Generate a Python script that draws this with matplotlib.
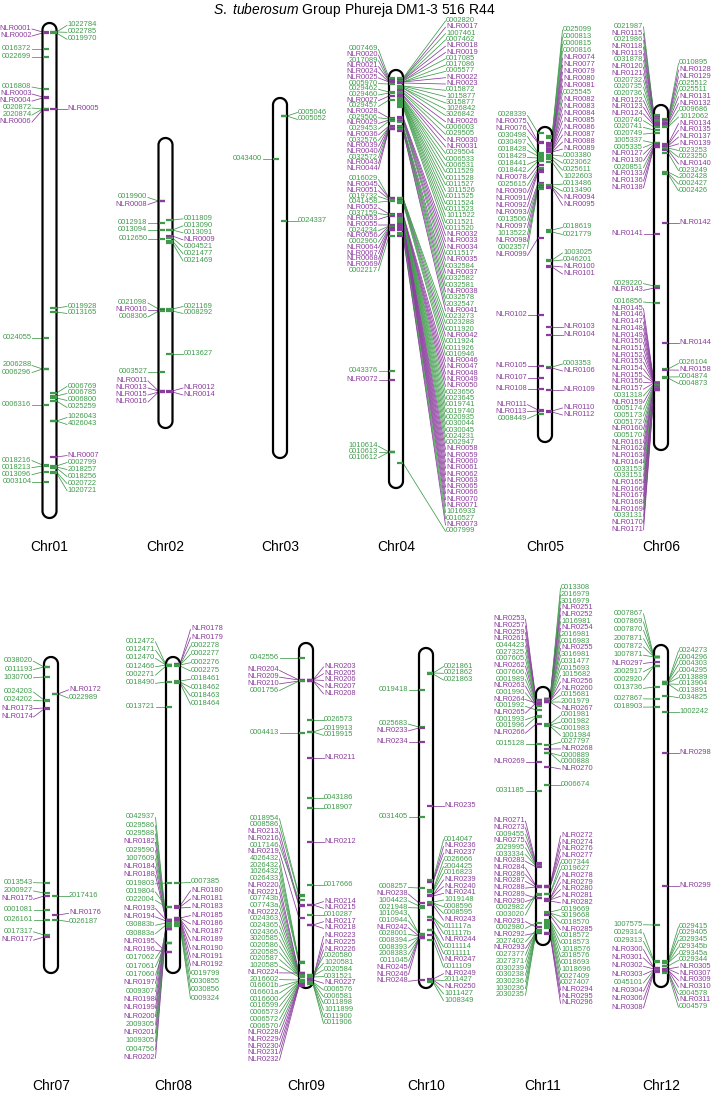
import numpy as np
import matplotlib
matplotlib.use("Agg")
import matplotlib.pyplot as plt

plt.rcParams['font.family'] = ['Liberation Sans', 'DejaVu Sans']
plt.rcParams['mathtext.fontset'] = 'custom'
plt.rcParams['mathtext.it'] = 'Liberation Sans:italic'
plt.rcParams['mathtext.rm'] = 'Liberation Sans'

TITLE = r"$\mathit{S.\ tuberosum}$ Group Phureja DM1-3 516 R44"
CHROMOSOMES = ["Chr01", "Chr02", "Chr03", "Chr04", "Chr05", "Chr06",
               "Chr07", "Chr08", "Chr09", "Chr10", "Chr11", "Chr12"]
CHR_LENGTH_CM = [99.0, 58.0, 72.0, 83.6, 63.0, 69.0, 63.2, 63.2, 69.0, 68.0, 51.6, 68.4]

# (gene id, position in cM from the top of the chromosome), left / right side
CHR01_L = [("NLR0001", 1.8), ("NLR0002", 2.0), ("0016372", 5.2), ("0022699", 6.8), ("0016808", 13.2),
           ("NLR0003", 14.8), ("NLR0004", 15.0), ("0020872", 17.2), ("2020874", 17.2), ("NLR0006", 17.4),
           ("0024055", 63.0), ("2006288", 69.2), ("0006296", 69.2), ("0006316", 76.4), ("0018216", 88.4),
           ("0018213", 88.6), ("0013096", 89.8), ("0003104", 91.8)]
CHR01_R = [("1022784", 1.8), ("0022785", 1.8), ("0019970", 2.0), ("NLR0005", 17.2), ("0019928", 57.0),
           ("0013165", 57.8), ("0006769", 74.0), ("0006785", 74.6), ("0006800", 75.0), ("0025259", 75.6),
           ("1026043", 79.6), ("4026043", 79.6), ("NLR0007", 86.8), ("0002799", 88.6), ("2018257", 88.8),
           ("0018256", 89.0), ("0020722", 89.8), ("1020721", 90.0)]

CHR02_L = [("0019900", 12.6), ("NLR0008", 12.6), ("0012918", 17.0), ("0013094", 18.4), ("0012650", 20.2),
           ("0021098", 34.2), ("NLR0010", 34.4), ("0008306", 34.6), ("0003527", 46.8), ("NLR0011", 50.6),
           ("NLR0013", 50.6), ("NLR0015", 50.8), ("NLR0016", 50.8)]
CHR02_R = [("0011809", 16.4), ("0013090", 18.4), ("0013091", 18.4), ("NLR0009", 19.6), ("0004521", 20.0),
           ("0021477", 20.6), ("0021469", 21.0), ("0021169", 34.2), ("0008292", 34.6), ("0013627", 43.2),
           ("NLR0012", 50.6), ("NLR0014", 50.8)]

CHR03_L = [("0043400", 12.2)]
CHR03_R = [("0005046", 3.6), ("0005052", 3.6), ("0024337", 24.6)]

CHR04_L = [("0007469", 1.6), ("NLR0020", 2.0), ("2017089", 2.2), ("NLR0021", 2.2), ("NLR0024", 2.4),
           ("NLR0025", 2.4), ("0005970", 2.8), ("0029462", 4.4), ("0029460", 4.6), ("NLR0027", 5.2),
           ("0029457", 6.0), ("NLR0028", 9.6), ("0029506", 9.8), ("NLR0029", 10.0), ("0029453", 10.2),
           ("NLR0036", 11.2), ("0032576", 11.4), ("NLR0039", 11.4), ("NLR0040", 11.6), ("0032572", 11.6),
           ("NLR0043", 11.8), ("NLR0044", 11.8), ("0016029", 25.6), ("NLR0045", 25.6), ("NLR0051", 25.8),
           ("0019732", 26.0), ("0041458", 26.2), ("NLR0052", 28.8), ("0037159", 29.0), ("NLR0053", 29.2),
           ("NLR0055", 31.0), ("0024234", 31.2), ("NLR0056", 31.2), ("0002960", 31.4), ("NLR0064", 31.6),
           ("NLR0067", 31.8), ("NLR0068", 32.0), ("NLR0069", 32.0), ("0002217", 33.2), ("0043376", 60.2),
           ("NLR0072", 62.0), ("1010614", 76.4), ("0010613", 76.4), ("0010612", 76.4)]
CHR04_R = [("0002820", 1.6), ("NLR0017", 1.8), ("1007461", 1.8), ("0007462", 2.0), ("NLR0018", 2.0),
           ("NLR0019", 2.2), ("0017085", 2.2), ("0017086", 2.4), ("0005577", 2.4), ("NLR0022", 2.4),
           ("NLR0023", 2.6), ("0015872", 3.2), ("1015877", 3.2), ("3015877", 3.4), ("1026842", 3.6),
           ("3026842", 3.6), ("NLR0026", 4.0), ("0006003", 4.4), ("0029505", 4.6), ("NLR0030", 5.0),
           ("NLR0031", 5.2), ("0029504", 5.6), ("0006533", 5.8), ("0006531", 5.8), ("0011529", 6.0),
           ("0011528", 6.2), ("0011527", 6.4), ("1011526", 6.4), ("0011525", 6.6), ("0011524", 6.8),
           ("0011523", 6.8), ("1011522", 7.0), ("0011521", 7.2), ("0011520", 7.4), ("NLR0032", 9.4),
           ("NLR0033", 9.6), ("NLR0034", 9.8), ("0011517", 10.0), ("NLR0035", 10.2), ("0032584", 10.4),
           ("NLR0037", 11.2), ("0032582", 11.4), ("0032581", 11.4), ("NLR0038", 11.6), ("0032578", 11.8),
           ("2032547", 12.0), ("NLR0041", 12.2), ("0023273", 25.6), ("0023288", 25.6), ("0011920", 25.8),
           ("NLR0042", 26.0), ("0011924", 26.2), ("0011926", 26.4), ("0010946", 26.6), ("NLR0046", 28.8),
           ("NLR0047", 29.0), ("NLR0048", 29.2), ("NLR0049", 29.2), ("NLR0050", 29.4), ("0023656", 29.6),
           ("0023645", 29.6), ("0019741", 29.8), ("0019740", 29.8), ("0020935", 30.0), ("0030044", 30.0),
           ("0030045", 30.2), ("0024231", 30.2), ("0002947", 30.4), ("NLR0058", 30.8), ("NLR0059", 30.8),
           ("NLR0060", 31.0), ("NLR0061", 31.0), ("NLR0062", 31.2), ("NLR0063", 31.2), ("NLR0065", 31.4),
           ("NLR0066", 31.6), ("NLR0070", 31.8), ("NLR0071", 32.0), ("1016933", 32.6), ("0010527", 32.8),
           ("NLR0073", 33.2), ("0007999", 78.6)]

CHR05_L = [("0028339", 1.2), ("NLR0075", 3.0), ("NLR0076", 3.2), ("0030498", 5.2), ("0030497", 5.4),
           ("0018428", 5.8), ("0018429", 6.2), ("0018441", 6.6), ("0018442", 6.8), ("NLR0078", 7.6),
           ("0025615", 8.2), ("NLR0090", 8.6), ("NLR0091", 8.8), ("NLR0092", 9.0), ("NLR0093", 11.2),
           ("0013506", 11.4), ("NLR0097", 11.8), ("1013522", 12.0), ("NLR0098", 12.2), ("0002357", 12.4),
           ("NLR0099", 22.2), ("NLR0102", 37.6), ("NLR0105", 47.8), ("NLR0107", 50.2), ("NLR0108", 52.4),
           ("NLR0111", 56.6), ("NLR0113", 56.8), ("0008449", 57.4)]
CHR05_R = [("0025099", 1.8), ("0000813", 2.0), ("0000815", 2.0), ("0000816", 2.2), ("NLR0074", 3.2),
           ("NLR0077", 3.4), ("NLR0079", 3.6), ("NLR0080", 3.8), ("NLR0081", 3.8), ("0025545", 4.2),
           ("NLR0082", 4.4), ("NLR0083", 4.4), ("NLR0084", 4.6), ("NLR0085", 4.6), ("NLR0086", 4.8),
           ("NLR0087", 4.8), ("NLR0088", 5.0), ("NLR0089", 5.0), ("0003380", 5.6), ("0023062", 6.0),
           ("0025611", 6.4), ("1022603", 7.0), ("0013486", 11.6), ("0013490", 11.8), ("NLR0094", 12.0),
           ("NLR0095", 12.2), ("0018619", 20.6), ("0021779", 21.0), ("1003025", 26.6), ("0046201", 26.8),
           ("NLR0100", 27.8), ("NLR0101", 28.0), ("NLR0103", 40.0), ("NLR0104", 41.6), ("0003353", 48.0),
           ("NLR0106", 48.2), ("NLR0109", 52.6), ("NLR0110", 56.8), ("NLR0112", 57.0)]

CHR06_L = [("0021987", 2.0), ("NLR0115", 2.2), ("0021986", 2.2), ("NLR0118", 2.4), ("NLR0119", 2.4),
           ("0031878", 2.6), ("NLR0120", 2.8), ("NLR0121", 2.8), ("0020732", 3.0), ("0020735", 3.0),
           ("0020736", 3.2), ("NLR0122", 3.6), ("NLR0123", 3.8), ("NLR0124", 4.0), ("0020740", 4.4),
           ("0020741", 5.0), ("0020749", 5.6), ("1005337", 7.6), ("0005335", 7.6), ("NLR0127", 7.8),
           ("NLR0130", 8.0), ("0020851", 8.2), ("NLR0133", 8.2), ("NLR0136", 8.4), ("NLR0138", 8.4),
           ("NLR0141", 25.8), ("0029220", 36.2), ("NLR0143", 36.6), ("0016856", 39.6), ("NLR0145", 55.6),
           ("NLR0146", 55.6), ("NLR0147", 55.6), ("NLR0148", 55.6), ("NLR0149", 55.6), ("NLR0150", 55.6),
           ("NLR0151", 55.6), ("NLR0152", 55.6), ("NLR0153", 55.6), ("NLR0154", 55.6), ("NLR0155", 55.6),
           ("NLR0156", 55.6), ("NLR0157", 55.6), ("0031318", 55.8), ("NLR0159", 55.8), ("0005174", 56.0),
           ("0005173", 56.0), ("0005172", 56.0), ("NLR0160", 56.2), ("0005170", 56.2), ("NLR0161", 56.4),
           ("NLR0162", 56.4), ("NLR0163", 56.4), ("NLR0164", 56.4), ("0033153", 56.6), ("0033151", 56.6),
           ("NLR0165", 56.8), ("NLR0166", 56.8), ("NLR0167", 56.8), ("NLR0168", 56.8), ("NLR0169", 56.8),
           ("0033131", 57.0), ("NLR0170", 57.0), ("NLR0171", 57.0)]
CHR06_R = [("0010895", 2.8), ("NLR0128", 3.0), ("NLR0129", 3.2), ("0025512", 3.4), ("0025511", 3.4),
           ("NLR0131", 3.6), ("NLR0132", 3.8), ("0009686", 4.2), ("1012062", 4.4), ("NLR0134", 7.8),
           ("NLR0135", 8.0), ("NLR0137", 8.2), ("NLR0139", 8.4), ("0023253", 8.6), ("0023250", 8.8),
           ("NLR0140", 9.0), ("0023249", 9.6), ("2002428", 13.4), ("0002427", 13.6), ("0002426", 13.8),
           ("NLR0142", 23.6), ("NLR0144", 47.6), ("0026104", 52.8), ("NLR0158", 53.0), ("0004874", 54.4),
           ("0004873", 54.6)]

CHR07_L = [("0038020", 2.0), ("0011193", 2.0), ("1030700", 4.0), ("0024203", 8.6), ("0024202", 8.8),
           ("NLR0173", 10.2), ("NLR0174", 10.4), ("0013543", 45.2), ("2000927", 47.2), ("NLR0175", 47.8),
           ("0001081", 50.6), ("0026161", 52.6), ("0017317", 55.6), ("NLR0177", 56.0)]
CHR07_R = [("NLR0172", 7.4), ("0022989", 7.4), ("2017416", 47.8), ("NLR0176", 51.6), ("0026187", 52.6)]

CHR08_L = [("0012472", 1.6), ("0012471", 1.6), ("0012470", 1.6), ("0012466", 1.6), ("0002271", 1.8),
           ("0018490", 5.0), ("0013721", 10.0), ("0042937", 52.6), ("0029586", 52.6), ("0029588", 52.8),
           ("NLR0182", 52.8), ("0029590", 53.0), ("1007609", 53.0), ("NLR0184", 52.6), ("NLR0188", 52.6),
           ("0019803", 45.2), ("0019804", 50.0), ("0022004", 50.0), ("NLR0193", 52.6), ("NLR0194", 52.8),
           ("030883b", 53.2), ("030883a", 53.6), ("NLR0195", 59.0), ("NLR0196", 59.0), ("0017062", 57.2),
           ("0017061", 57.2), ("0017060", 57.2), ("NLR0197", 54.2), ("0009307", 54.0), ("NLR0198", 54.2),
           ("NLR0199", 54.4), ("NLR0200", 54.4), ("2009305", 54.2), ("NLR0201", 54.4), ("1009305", 54.2),
           ("0004756", 54.2), ("NLR0202", 54.4)]
CHR08_R = [("NLR0178", 1.4), ("NLR0179", 1.4), ("0002278", 1.6), ("0002277", 1.6), ("0002276", 1.6),
           ("0002275", 1.8), ("0018461", 4.8), ("0018462", 5.0), ("0018463", 5.0), ("0018464", 5.2),
           ("0007385", 45.2), ("NLR0180", 49.8), ("NLR0181", 50.0), ("NLR0183", 50.2), ("NLR0185", 52.2),
           ("NLR0186", 52.2), ("NLR0187", 52.4), ("NLR0189", 52.4), ("NLR0190", 52.6), ("NLR0191", 52.6),
           ("NLR0192", 52.8), ("0019799", 53.0), ("0030855", 53.4), ("0030856", 53.6), ("0009324", 53.8)]

CHR09_L = [("0042556", 3.0), ("NLR0204", 7.4), ("NLR0209", 7.4), ("NLR0210", 7.6), ("0001756", 7.6),
           ("0004413", 18.0), ("0018954", 50.4), ("0008586", 50.6), ("NLR0213", 52.4), ("NLR0216", 52.6),
           ("0017146", 51.4), ("NLR0219", 55.0), ("4026432", 63.8), ("2026432", 63.8), ("1026432", 63.8),
           ("0026433", 64.0), ("NLR0220", 66.0), ("NLR0221", 66.0), ("007743b", 66.2), ("007743a", 66.2),
           ("NLR0222", 66.2), ("0024363", 66.4), ("0024365", 66.4), ("0024366", 66.4), ("3020585", 66.4),
           ("0020586", 66.6), ("2020585", 66.6), ("0020587", 66.6), ("1020585", 66.8), ("NLR0224", 66.0),
           ("2016602", 67.4), ("016601b", 67.6), ("016601a", 67.6), ("0016600", 67.8), ("0016599", 67.8),
           ("0006573", 68.0), ("0006572", 68.0), ("0006570", 68.2), ("NLR0228", 68.2), ("NLR0229", 68.4),
           ("NLR0230", 68.4), ("NLR0231", 68.4), ("NLR0232", 68.6)]
CHR09_R = [("NLR0203", 7.4), ("NLR0205", 7.4), ("NLR0206", 7.4), ("NLR0207", 7.6), ("NLR0208", 7.6),
           ("0026573", 15.4), ("0019913", 17.8), ("0019915", 17.8), ("NLR0211", 23.0), ("0043186", 31.0),
           ("0018907", 33.0), ("NLR0212", 39.8), ("0017666", 48.4), ("NLR0214", 52.4), ("NLR0215", 52.4),
           ("0010287", 54.4), ("NLR0217", 56.4), ("NLR0218", 56.4), ("NLR0223", 67.2), ("NLR0225", 67.2),
           ("NLR0226", 67.4), ("0020580", 66.4), ("1020581", 66.4), ("0020584", 66.6), ("0031521", 66.8),
           ("NLR0227", 67.4), ("0006576", 67.8), ("0006581", 67.8), ("0011898", 68.0), ("1011899", 68.0),
           ("0011900", 68.2), ("0011906", 68.2)]

CHR10_L = [("0019418", 8.4), ("0025683", 15.8), ("NLR0233", 16.0), ("NLR0234", 18.8), ("0031405", 33.8),
           ("0008257", 48.0), ("NLR0238", 51.0), ("1004423", 51.6), ("0021948", 52.0), ("1010943", 57.2),
           ("0010944", 57.2), ("NLR0242", 57.6), ("0028001", 57.6), ("0008394", 57.8), ("0008393", 57.8),
           ("2008383", 58.0), ("0011045", 58.0), ("NLR0245", 57.8), ("NLR0246", 58.0), ("NLR0248", 66.4)]
CHR10_R = [("0021861", 5.0), ("0021862", 5.0), ("0021863", 5.2), ("NLR0235", 31.6), ("0014047", 46.4),
           ("NLR0236", 46.8), ("NLR0237", 46.8), ("0026666", 48.4), ("2004425", 48.6), ("0016823", 48.8),
           ("NLR0239", 49.4), ("NLR0240", 49.4), ("NLR0241", 49.6), ("1019148", 50.8), ("0008596", 51.0),
           ("0008595", 51.0), ("NLR0243", 51.4), ("011117a", 53.8), ("011117b", 53.8), ("NLR0244", 54.4),
           ("0011114", 56.4), ("0011111", 56.4), ("NLR0247", 57.4), ("0011109", 58.4), ("NLR0249", 66.2),
           ("2011427", 66.4), ("NLR0250", 66.4), ("1011427", 66.6), ("1008349", 66.8)]

CHR11_L = [("NLR0253", 2.6), ("NLR0257", 2.6), ("NLR0259", 2.8), ("NLR0261", 2.8), ("0044423", 3.0),
           ("0027325", 3.0), ("0007605", 3.2), ("NLR0262", 3.2), ("0007606", 3.4), ("0001989", 3.6),
           ("NLR0263", 3.6), ("0001990", 3.8), ("NLR0264", 3.2), ("0001992", 4.6), ("NLR0265", 3.2),
           ("0001993", 5.8), ("0001996", 6.0), ("NLR0266", 7.4), ("0015128", 11.4), ("NLR0269", 15.0),
           ("0031185", 20.8), ("NLR0271", 35.2), ("NLR0273", 35.4), ("0009455", 35.6), ("NLR0275", 35.6),
           ("2029995", 35.8), ("0033334", 35.8), ("NLR0283", 36.0), ("NLR0284", 39.8), ("NLR0286", 39.8),
           ("NLR0287", 40.0), ("NLR0288", 40.0), ("NLR0289", 42.2), ("NLR0290", 42.2), ("0002982", 41.4),
           ("0003020", 41.6), ("NLR0291", 48.0), ("0002980", 47.2), ("NLR0292", 49.2), ("2027402", 48.6),
           ("NLR0293", 49.2), ("0027377", 48.6), ("2027371", 48.8), ("0030239", 48.8), ("0030238", 48.8),
           ("2030236", 49.0), ("1030236", 49.0), ("2030235", 49.0)]
CHR11_R = [("0013308", 2.4), ("2016979", 2.4), ("3016979", 2.4), ("NLR0251", 2.4), ("NLR0252", 2.4),
           ("1016981", 2.6), ("NLR0254", 2.6), ("2016981", 2.6), ("0016983", 2.6), ("NLR0255", 2.6),
           ("3016981", 2.6), ("0031477", 2.8), ("0015693", 2.8), ("1015682", 2.8), ("NLR0256", 2.8),
           ("NLR0260", 2.8), ("0015681", 3.0), ("2001979", 3.0), ("NLR0267", 3.0), ("0001981", 7.4),
           ("0001982", 7.6), ("0001983", 7.6), ("1001984", 7.8), ("0027797", 11.6), ("NLR0268", 12.4),
           ("0000889", 13.2), ("0000888", 13.2), ("NLR0270", 16.0), ("0006674", 19.6), ("NLR0272", 39.8),
           ("NLR0274", 39.8), ("NLR0276", 40.0), ("NLR0277", 40.0), ("0007344", 41.4), ("0019627", 41.4),
           ("NLR0278", 42.4), ("NLR0279", 42.4), ("NLR0280", 42.6), ("NLR0281", 42.6), ("NLR0282", 42.8),
           ("0019669", 45.0), ("3019668", 45.2), ("0018570", 45.2), ("NLR0285", 45.6), ("0018572", 46.6),
           ("0018573", 46.8), ("1018576", 47.0), ("2018576", 47.2), ("0018693", 47.6), ("1018696", 47.8),
           ("0027409", 48.0), ("0027407", 48.2), ("NLR0294", 49.2), ("NLR0295", 49.2), ("NLR0296", 49.4)]

CHR12_L = [("0007867", 2.4), ("0007869", 2.4), ("0007870", 2.4), ("2007871", 2.4), ("0007872", 2.4),
           ("1007871", 2.4), ("NLR0297", 3.4), ("2002917", 4.2), ("0002920", 4.2), ("0013736", 8.4),
           ("0027867", 10.8), ("0018903", 12.4), ("1007575", 56.0), ("0029314", 63.2), ("0029313", 63.4),
           ("NLR0300", 64.6), ("NLR0301", 64.6), ("NLR0302", 64.8), ("NLR0303", 65.0), ("0045101", 65.0),
           ("NLR0304", 65.2), ("NLR0306", 65.2), ("NLR0308", 65.4)]
CHR12_R = [("0024273", 7.4), ("0004296", 7.4), ("0004303", 7.4), ("0004295", 7.6), ("0013889", 7.6),
           ("0013904", 7.8), ("0013891", 7.8), ("0034825", 10.2), ("1002242", 13.4), ("NLR0298", 21.6),
           ("NLR0299", 48.2), ("0029415", 63.2), ("0029405", 63.4), ("2029345", 63.4), ("029345b", 63.6),
           ("029345a", 63.6), ("0029344", 64.2), ("NLR0305", 64.8), ("NLR0307", 64.8), ("NLR0309", 65.0),
           ("NLR0310", 65.0), ("2004578", 65.4), ("NLR0311", 65.2), ("0004579", 65.6)]

MARKERS = {
    "Chr01": (CHR01_L, CHR01_R), "Chr02": (CHR02_L, CHR02_R), "Chr03": (CHR03_L, CHR03_R),
    "Chr04": (CHR04_L, CHR04_R), "Chr05": (CHR05_L, CHR05_R), "Chr06": (CHR06_L, CHR06_R),
    "Chr07": (CHR07_L, CHR07_R), "Chr08": (CHR08_L, CHR08_R), "Chr09": (CHR09_L, CHR09_R),
    "Chr10": (CHR10_L, CHR10_R), "Chr11": (CHR11_L, CHR11_R), "Chr12": (CHR12_L, CHR12_R),
}

# ---------------- layout (pixels of the 714 x 1101 canvas) ----------------
W, H = 714, 1101
PX_PER_CM = 5.0
CHR_X = [49.5, 165.5, 280, 396, 545, 661, 51, 173, 306, 426, 543, 661]
CHR_TOP = [23, 138, 98, 70, 127, 105, 657, 657, 643, 648, 687, 645]
ROW_LABEL_Y = [547, 1086]
ROW_MIN_Y = [21, 566]
ROW_MAX_Y = [530, 1060]
HALF_W = 7.0
GREEN = "#3f9b4b"
PURPLE = "#8a3c9c"
LABEL_FS = 5.4
DEFAULT_GAP = 11.0
GAP = {("Chr04", 1): 43.0, ("Chr09", 0): 20.0}
SPACING = {("Chr04", 0): 5.7, ("Chr04", 1): 6.3, ("Chr06", 0): 6.7, ("Chr06", 1): 6.7,
           ("Chr07", 0): 8.3, ("Chr07", 1): 8.3, ("Chr08", 0): 8.3, ("Chr08", 1): 8.3,
           ("Chr12", 0): 8.3}
ROW_SPACING = [7.0, 6.7]
GROUP_BREAK_CM = 1.5
GROUP_EXP = 2.0


def spread(ideal, spacing, lo, hi):
    """Order-keeping label placement with minimum spacing inside [lo, hi];
    large clusters of labels give way to small ones (weighted least squares)."""
    ideal = np.asarray(ideal, float)
    n = len(ideal)
    grp = np.zeros(n, int)
    for i in range(1, n):
        grp[i] = grp[i - 1] + (abs(ideal[i] - ideal[i - 1]) > GROUP_BREAK_CM)
    size = np.bincount(grp)[grp].astype(float)
    wts = 1.0 / size ** GROUP_EXP
    off = spacing * np.arange(n)
    z = ideal - off
    blocks = []
    for v, w in zip(z, wts):
        blocks.append([w, w * v, 1])
        while len(blocks) > 1 and blocks[-2][1] / blocks[-2][0] > blocks[-1][1] / blocks[-1][0]:
            a = blocks.pop()
            blocks[-1][0] += a[0]
            blocks[-1][1] += a[1]
            blocks[-1][2] += a[2]
    fit = np.concatenate([[b[1] / b[0]] * b[2] for b in blocks])
    fit = np.clip(fit, lo, max(lo, hi - off[-1]))
    return fit + off


fig = plt.figure(figsize=(W / 100, H / 100), dpi=100)
ax = fig.add_axes([0, 0, 1, 1])
ax.set_xlim(0, W)
ax.set_ylim(H / PX_PER_CM, 0)
ax.axis("off")

ax.text(354, 14 / PX_PER_CM, TITLE, ha="center", va="baseline", fontsize=10)

ry = HALF_W / PX_PER_CM
for i, name in enumerate(CHROMOSOMES):
    row = 0 if i < 6 else 1
    xc = CHR_X[i]
    y0 = CHR_TOP[i] / PX_PER_CM
    y1 = y0 + CHR_LENGTH_CM[i]
    t = np.linspace(np.pi, 2 * np.pi, 40)
    t2 = np.linspace(0, np.pi, 40)
    xs = np.concatenate([xc + HALF_W * np.cos(t), xc + HALF_W * np.cos(t2)])
    ys = np.concatenate([y0 + ry + ry * np.sin(t), y1 - ry + ry * np.sin(t2)])
    ax.fill(np.append(xs, xs[0]), np.append(ys, ys[0]), facecolor="white",
            edgecolor="black", lw=1.6, zorder=2)
    ax.text(xc, ROW_LABEL_Y[row] / PX_PER_CM, name, ha="center", va="center", fontsize=10)

    for side, items in enumerate(MARKERS[name]):
        if not items:
            continue
        ids = [it[0] for it in items]
        pos = np.array([it[1] for it in items]) + y0
        sp = SPACING.get((name, side), ROW_SPACING[row]) / PX_PER_CM
        lab_y = spread(pos, sp, ROW_MIN_Y[row] / PX_PER_CM, ROW_MAX_Y[row] / PX_PER_CM)
        gap = GAP.get((name, side), DEFAULT_GAP)
        sgn = -1 if side == 0 else 1
        edge = xc + sgn * HALF_W
        tx = edge + sgn * gap
        for gid, p, ly in zip(ids, pos, lab_y):
            col = PURPLE if gid.startswith("NLR") else GREEN
            ax.plot([edge, xc + sgn * 0.8], [p, p], color=col, lw=1.6,
                    solid_capstyle="butt", zorder=3)
            ax.plot([edge, tx - sgn * 0.5], [p, ly], color=col, lw=0.55, zorder=1)
            ax.text(tx, ly + 0.2, gid, ha="right" if side == 0 else "left",
                    va="baseline", fontsize=LABEL_FS, color=col)

fig.savefig("out.png", dpi=100)
